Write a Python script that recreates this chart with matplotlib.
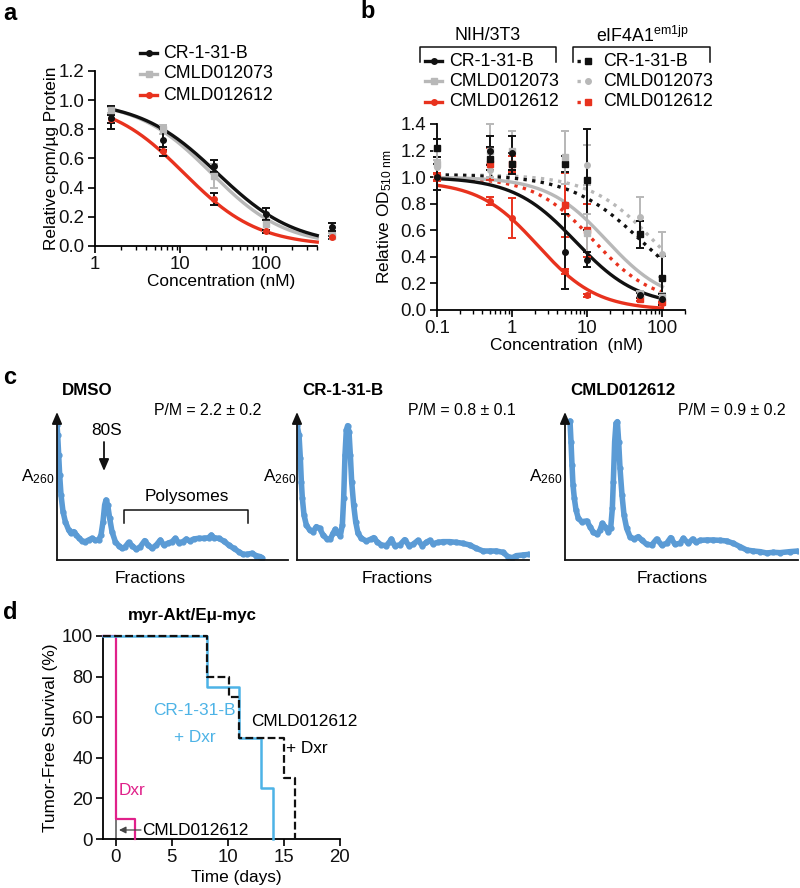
import numpy as np
import matplotlib.pyplot as plt
from matplotlib.ticker import FixedLocator, LogLocator, NullFormatter

plt.rcParams['font.family'] = ['Liberation Sans', 'DejaVu Sans']
plt.rcParams['mathtext.fontset'] = 'custom'
plt.rcParams['mathtext.rm'] = 'Liberation Sans'
plt.rcParams['mathtext.it'] = 'Liberation Sans:italic'
plt.rcParams['mathtext.bf'] = 'Liberation Sans:bold'

BLACK = '#111111'
GRAY = '#b8b8b8'
RED = '#e8321e'
TRACE = '#5b9bd5'
BLUE = '#4db3e6'
PINK = '#e0218a'
FS = 12.4  # main text size

# ---------------- panel a: cpm / ug protein ----------------
conc_a = [1.56, 6.25, 25, 100, 600]
a_names = ['CR-1-31-B', 'CMLD012073', 'CMLD012612']
a_vals = {
    'CR-1-31-B': [0.88, 0.73, 0.55, 0.22, 0.13],
    'CMLD012073': [0.93, 0.80, 0.48, 0.15, 0.07],
    'CMLD012612': [0.87, 0.65, 0.32, 0.10, 0.06],
}
a_err = {
    'CR-1-31-B': [0.08, 0.07, 0.04, 0.04, 0.03],
    'CMLD012073': [0.02, 0.03, 0.08, 0.05, 0.02],
    'CMLD012612': [0.03, 0.03, 0.04, 0.01, 0.01],
}
# fitted dose-response (top, bottom, IC50 nM, hill)
a_fit = {
    'CR-1-31-B': (1.0, 0.0, 27, 0.95),
    'CMLD012073': (1.0, 0.0, 23, 1.0),
    'CMLD012612': (1.0, 0.0, 11, 1.0),
}

# ---------------- panel b: OD510 ----------------
conc_b = [0.1, 0.5, 1, 5, 10, 50, 100]
b_names = ['CR-1-31-B', 'CMLD012073', 'CMLD012612']
b_nih_vals = {
    'CR-1-31-B': [1.00, 1.20, 1.18, 0.44, 0.38, 0.11, 0.08],
    'CMLD012073': [1.10, 1.20, 1.20, 1.15, 0.58, 0.12, 0.10],
    'CMLD012612': [1.00, 0.82, 0.69, 0.29, 0.11, 0.08, 0.05],
}
b_nih_err = {
    'CR-1-31-B': [0.10, 0.11, 0.13, 0.28, 0.06, 0.02, 0.04],
    'CMLD012073': [0.10, 0.20, 0.15, 0.20, 0.14, 0.02, 0.03],
    'CMLD012612': [0.02, 0.03, 0.15, 0.02, 0.01, 0.01, 0.01],
}
b_mut_vals = {
    'CR-1-31-B': [1.22, 1.14, 1.10, 1.10, 0.98, 0.57, 0.24],
    'CMLD012073': [1.08, 1.05, 1.10, 1.15, 1.09, 0.70, 0.42],
    'CMLD012612': [1.00, 1.10, 1.10, 0.79, 0.60, 0.08, 0.06],
}
b_mut_err = {
    'CR-1-31-B': [0.07, 0.09, 0.08, 0.06, 0.38, 0.10, 0.17],
    'CMLD012073': [0.05, 0.05, 0.06, 0.20, 0.15, 0.15, 0.17],
    'CMLD012612': [0.03, 0.12, 0.06, 0.24, 0.20, 0.01, 0.01],
}
b_nih_fit = {
    'CR-1-31-B': (1.0, 0.03, 7, 1.05),
    'CMLD012073': (1.0, 0.05, 18, 1.1),
    'CMLD012612': (0.97, 0.0, 2.2, 1.1),
}
b_mut_fit = {
    'CR-1-31-B': (1.02, 0.0, 55, 0.9),
    'CMLD012073': (1.02, 0.0, 80, 1.0),
    'CMLD012612': (1.0, 0.05, 12, 1.1),
}
series_color = {'CR-1-31-B': BLACK, 'CMLD012073': GRAY, 'CMLD012612': RED}

# ---------------- panel c: polysome profiles (A260, arbitrary units) ----------------
dmso_x = [0, 2, 5, 8, 12, 18, 25, 35, 42, 50, 58, 65, 75, 85, 95, 105, 115, 125, 132, 138,
          143, 147, 152, 158, 165, 175, 185, 195, 205, 215, 225, 238, 250, 263, 273, 285, 298, 310, 320, 332,
          345, 355, 365, 378, 388, 398, 410, 425, 440, 455, 463, 470, 485, 500, 515, 530, 545, 558, 570, 585,
          598, 610, 615]
dmso_y = [405, 375, 315, 255, 195, 145, 115, 90, 80, 85, 75, 67, 57, 55, 60, 65, 59, 60, 75, 115,
          165, 180, 165, 125, 85, 55, 43, 35, 40, 53, 43, 32, 40, 58, 45, 35, 45, 60, 45, 50,
          55, 65, 52, 55, 63, 57, 63, 65, 65, 67, 75, 67, 65, 57, 45, 35, 25, 17, 17, 20,
          13, 10, 7]
cr_x = [0, 6, 10, 13, 16, 21, 28, 38, 48, 58, 68, 78, 90, 100, 108, 115, 123, 130, 136, 140,
        144, 148, 152, 156, 160, 164, 170, 176, 183, 193, 208, 223, 230, 240, 253, 268, 278, 283, 293, 308,
        323, 336, 348, 363, 376, 388, 398, 408, 423, 438, 458, 478, 498, 518, 538, 558, 578, 598, 618, 633,
        646, 658, 678, 696]
cr_y = [405, 375, 305, 235, 185, 135, 105, 90, 85, 100, 95, 75, 63, 63, 80, 92, 80, 73, 105, 185,
        315, 390, 403, 385, 315, 235, 165, 115, 80, 65, 57, 63, 67, 55, 45, 43, 55, 63, 43, 45,
        61, 43, 47, 59, 43, 53, 59, 49, 53, 55, 55, 53, 50, 45, 35, 27, 27, 27, 23, 10,
        7, 13, 15, 17]
cmld_x = [15, 18, 21, 24, 28, 33, 40, 50, 65, 75, 85, 97, 105, 112, 120, 130, 137, 142, 145, 149,
          153, 157, 161, 165, 171, 177, 185, 195, 207, 220, 230, 245, 260, 275, 290, 305, 317, 330, 345, 355,
          370, 383, 393, 405, 425, 445, 465, 485, 505, 525, 545, 565, 585, 605, 625, 645, 675, 700]
cmld_y = [417, 355, 285, 225, 185, 150, 125, 115, 117, 100, 83, 77, 90, 110, 100, 85, 95, 155, 235, 355,
          410, 415, 355, 275, 195, 135, 95, 70, 63, 70, 60, 47, 45, 63, 45, 50, 67, 47, 50, 65,
          50, 63, 53, 59, 60, 60, 59, 57, 50, 40, 30, 27, 25, 21, 23, 22, 25, 27]
profiles = [
    ('DMSO', 'P/M = 2.2 ± 0.2', dmso_x, dmso_y),
    ('CR-1-31-B', 'P/M = 0.8 ± 0.1', cr_x, cr_y),
    ('CMLD012612', 'P/M = 0.9 ± 0.2', cmld_x, cmld_y),
]

# ---------------- panel d: tumor-free survival ----------------
dxr_t = [-1.1, 0.0, 1.7]
dxr_s = [100, 10, 0]
cmld_alone_t = [-1.1, 0.0]
cmld_alone_s = [100, 0]
cr_dxr_t = [-1.1, 8.1, 11.0, 13.0, 14.0]
cr_dxr_s = [100, 75, 50, 25, 0]
cmld_dxr_t = [-1.1, 8.1, 10.1, 11.0, 15.0, 16.0]
cmld_dxr_s = [100, 80, 70, 50, 30, 0]

W, H = 800, 888
fig = plt.figure(figsize=(W / 100, H / 100), dpi=100)


def add_ax(left, top, right, bottom):
    return fig.add_axes([left / W, 1 - bottom / H, (right - left) / W, (bottom - top) / H])


def logistic(c, top, bottom, ic50, hill):
    c = np.asarray(c, dtype=float)
    return bottom + (top - bottom) / (1 + (c / ic50) ** hill)


def style_axis(ax):
    for s in ['top', 'right']:
        ax.spines[s].set_visible(False)
    for s in ['left', 'bottom']:
        ax.spines[s].set_linewidth(1.3)
    ax.tick_params(which='major', direction='out', length=5, width=1.3, labelsize=13.4, colors=BLACK, pad=2.5)
    ax.tick_params(which='minor', direction='out', length=3, width=1.0)


def step(ax, t, s, **kw):
    # Kaplan-Meier style step: hold each level until next event, then drop
    xs, ys = [t[0]], [s[0]]
    for i in range(1, len(t)):
        xs += [t[i], t[i]]
        ys += [s[i - 1], s[i]]
    ax.plot(xs, ys, clip_on=False, **kw)


# ===== panel a =====
axa = add_ax(95, 71, 338, 246)
style_axis(axa)
axa.set_xscale('log')
axa.set_xlim(1, 700)
axa.set_ylim(0, 1.2)
axa.spines['bottom'].set_bounds(1, 400)
axa.set_yticks(np.arange(0, 1.21, 0.2))
axa.set_yticklabels([f'{v:.1f}' for v in np.arange(0, 1.21, 0.2)])
axa.set_xticks([1, 10, 100])
axa.set_xticklabels(['1', '10', '100'])
axa.xaxis.set_minor_locator(FixedLocator([m * d for d in [1, 10, 100] for m in range(2, 10) if m * d <= 400]))
axa.xaxis.set_minor_formatter(NullFormatter())
axa.set_xlabel('Concentration (nM)', fontsize=FS)
axa.xaxis.set_label_coords(0.52, -0.16)
axa.set_ylabel('Relative cpm/µg Protein', fontsize=FS)
axa.yaxis.set_label_coords(-0.15, 0.5)

grid_a = np.logspace(np.log10(1.56), np.log10(400), 200)
a_markers = {'CR-1-31-B': 'o', 'CMLD012073': 's', 'CMLD012612': 'o'}
a_barcol = {'CR-1-31-B': BLACK, 'CMLD012073': GRAY, 'CMLD012612': BLACK}
for name in ['CMLD012073', 'CMLD012612', 'CR-1-31-B']:
    col = series_color[name]
    axa.plot(grid_a, logistic(grid_a, *a_fit[name]), color=col, lw=2.4, zorder=2)
    axa.errorbar(conc_a, a_vals[name], yerr=a_err[name], fmt=a_markers[name], ms=4,
                 color=col, ecolor=a_barcol[name], elinewidth=1.4, capsize=3, capthick=1.4,
                 clip_on=False, zorder=3)

# ===== panel b =====
axb = add_ax(437, 124, 685, 310)
style_axis(axb)
axb.set_xscale('log')
axb.set_xlim(0.1, 200)
axb.set_ylim(0, 1.4)
axb.set_yticks(np.arange(0, 1.41, 0.2))
axb.set_yticklabels([f'{v:.1f}' for v in np.arange(0, 1.41, 0.2)])
axb.set_xticks([0.1, 1, 10, 100])
axb.set_xticklabels(['0.1', '1', '10', '100'])
axb.xaxis.set_minor_locator(LogLocator(base=10, subs=np.arange(2, 10)))
axb.xaxis.set_minor_formatter(NullFormatter())
axb.set_xlabel('Concentration  (nM)', fontsize=FS)
axb.xaxis.set_label_coords(0.524, -0.152)
axb.set_ylabel(r'Relative OD$_{\mathrm{510\ nm}}$', fontsize=FS)
axb.yaxis.set_label_coords(-0.175, 0.5)

grid_b = np.logspace(-1, 2, 200)
nih_mark = {'CR-1-31-B': 'o', 'CMLD012073': 's', 'CMLD012612': 'o'}
mut_mark = {'CR-1-31-B': 's', 'CMLD012073': 'o', 'CMLD012612': 's'}
for name in ['CMLD012073', 'CMLD012612', 'CR-1-31-B']:
    col = series_color[name]
    axb.plot(grid_b, logistic(grid_b, *b_mut_fit[name]), color=col, lw=2.4, ls=(0, (1, 1.6)), zorder=2)
    axb.errorbar(conc_b, b_mut_vals[name], yerr=b_mut_err[name], fmt=mut_mark[name], ms=4,
                 color=col, elinewidth=1.4, capsize=3, capthick=1.4, clip_on=False, zorder=3)
for name in ['CMLD012073', 'CMLD012612', 'CR-1-31-B']:
    col = series_color[name]
    axb.plot(grid_b, logistic(grid_b, *b_nih_fit[name]), color=col, lw=2.4, zorder=2)
    axb.errorbar(conc_b, b_nih_vals[name], yerr=b_nih_err[name], fmt=nih_mark[name], ms=4,
                 color=col, elinewidth=1.4, capsize=3, capthick=1.4, clip_on=False, zorder=3)

# ===== panel c =====
c_boxes = [(57, 288), (297, 529), (565, 798)]
for (title, pm, xs, ys), (left, right) in zip(profiles, c_boxes):
    ax = add_ax(left, 412, right, 560)
    ax.set_xlim(0, (right - left) * 3)
    ax.set_ylim(0, 444)
    ax.axis('off')
    ax.plot(xs, ys, color=TRACE, lw=4.0, solid_capstyle='round', solid_joinstyle='round', zorder=2)
    ax.plot(xs, ys, 'o', color=TRACE, ms=3.5, zorder=2)
    ax.plot([0, (right - left) * 3], [0, 0], color=BLACK, lw=1.3, clip_on=False)
    ax.annotate('', xy=(0, 444), xytext=(0, 0), annotation_clip=False,
                arrowprops=dict(arrowstyle='-|>,head_length=0.7,head_width=0.3', color=BLACK, lw=1.3,
                                shrinkA=0, shrinkB=0))

# ===== panel d =====
axd = add_ax(103.3, 636, 340, 839)
style_axis(axd)
axd.set_xlim(-1.1, 20)
axd.set_ylim(0, 100)
axd.set_xticks([0, 5, 10, 15, 20])
axd.set_yticks([0, 20, 40, 60, 80, 100])
axd.set_xlabel('Time (days)', fontsize=FS)
axd.xaxis.set_label_coords(0.56, -0.155)
axd.set_ylabel('Tumor-Free Survival (%)', fontsize=FS)
axd.yaxis.set_label_coords(-0.19, 0.5)
step(axd, cmld_alone_t, cmld_alone_s, color='#777777', lw=1.4, zorder=2)
step(axd, dxr_t, dxr_s, color=PINK, lw=1.6, zorder=3)
step(axd, cr_dxr_t, cr_dxr_s, color=BLUE, lw=1.8, zorder=3)
step(axd, cmld_dxr_t, cmld_dxr_s, color=BLACK, lw=1.6, ls=(0, (3.5, 1.5)), zorder=4)

# ===== overlay for labels / legends =====
ov = fig.add_axes([0, 0, 1, 1], zorder=10)
ov.set_xlim(0, W)
ov.set_ylim(H, 0)
ov.axis('off')
ov.patch.set_alpha(0)

for lab, x, y in [('a', 3, 14), ('b', 360, 12), ('c', 3, 377), ('d', 3, 612)]:
    ov.text(x, y, lab, fontsize=17, fontweight='bold', va='center', ha='left')

# legend a
for i, name in enumerate(a_names):
    y = 53 + i * 21
    col = series_color[name]
    ov.plot([140, 157], [y, y], color=col, lw=2.4)
    ov.plot([148.5], [y], a_markers[name], color=col, ms=4)
    ov.text(163, y, name, fontsize=12.8, va='center', ha='left')

# legend b with brackets
ov.text(488, 35, 'NIH/3T3', fontsize=12.8, ha='center', va='center')
ov.text(642, 36, r'eIF4A1$^{\mathrm{em1jp}}$', fontsize=12.8, ha='center', va='center')
ov.plot([420, 420, 556, 556], [62, 47, 47, 62], color=BLACK, lw=1.1)
ov.plot([573, 573, 710, 710], [62, 47, 47, 62], color=BLACK, lw=1.1)
for i, name in enumerate(b_names):
    y = 61 + i * 20.5
    col = series_color[name]
    ov.plot([425, 442], [y, y], color=col, lw=2.4)
    ov.plot([433.5], [y], nih_mark[name], color=col, ms=4)
    ov.text(449, y, name, fontsize=12.8, va='center', ha='left')
    ov.plot([577, 594], [y, y], color=col, lw=2.4, ls=(0, (1, 1.6)))
    ov.plot([588], [y], mut_mark[name], color=col, ms=4)
    ov.text(603, y, name, fontsize=12.8, va='center', ha='left')

# panel c texts
c_title_x = [62, 302, 570]
c_pm_x = [208, 462, 732]
c_a_x = [21, 263, 529]
c_frac_x = [150, 397, 672]
for (title, pm, _, _), tx, px, axx, fx in zip(profiles, c_title_x, c_pm_x, c_a_x, c_frac_x):
    ov.text(tx, 390, title, fontsize=12.2, fontweight='bold', ha='left', va='center')
    ov.text(px, 410, pm, fontsize=11.4, ha='center', va='center')
    ov.text(axx, 477, r'A$_{\mathrm{260}}$', fontsize=12.4, ha='left', va='center')
    ov.text(fx, 578, 'Fractions', fontsize=FS, ha='center', va='center')
ov.text(107, 430, '80S', fontsize=FS, ha='center', va='center')
ov.annotate('', xy=(104, 471), xytext=(104, 442),
            arrowprops=dict(arrowstyle='-|>,head_length=0.7,head_width=0.3', color=BLACK, lw=1.3,
                            shrinkA=0, shrinkB=0))
ov.plot([124, 124, 248, 248], [523, 510, 510, 523], color=BLACK, lw=1.1)
ov.text(187, 496, 'Polysomes', fontsize=FS, ha='center', va='center')

# panel d texts
ov.text(192, 615, 'myr-Akt/Eμ-myc', fontsize=12.2, fontweight='bold', ha='center', va='center')
ov.text(194, 710, 'CR-1-31-B', fontsize=FS, color=BLUE, ha='center', va='center')
ov.text(195, 737, '+ Dxr', fontsize=FS, color=BLUE, ha='center', va='center')
ov.text(304, 721, 'CMLD012612', fontsize=FS, ha='center', va='center')
ov.text(307, 748, '+ Dxr', fontsize=FS, ha='center', va='center')
ov.text(132, 790, 'Dxr', fontsize=FS, color=PINK, ha='center', va='center')
ov.annotate('', xy=(119, 830), xytext=(141, 830),
            arrowprops=dict(arrowstyle='-|>,head_length=0.4,head_width=0.2', color='#444444', lw=0.9,
                            shrinkA=0, shrinkB=0))
ov.text(142, 830, 'CMLD012612', fontsize=FS, ha='left', va='center')

fig.savefig('out.png', dpi=100)
